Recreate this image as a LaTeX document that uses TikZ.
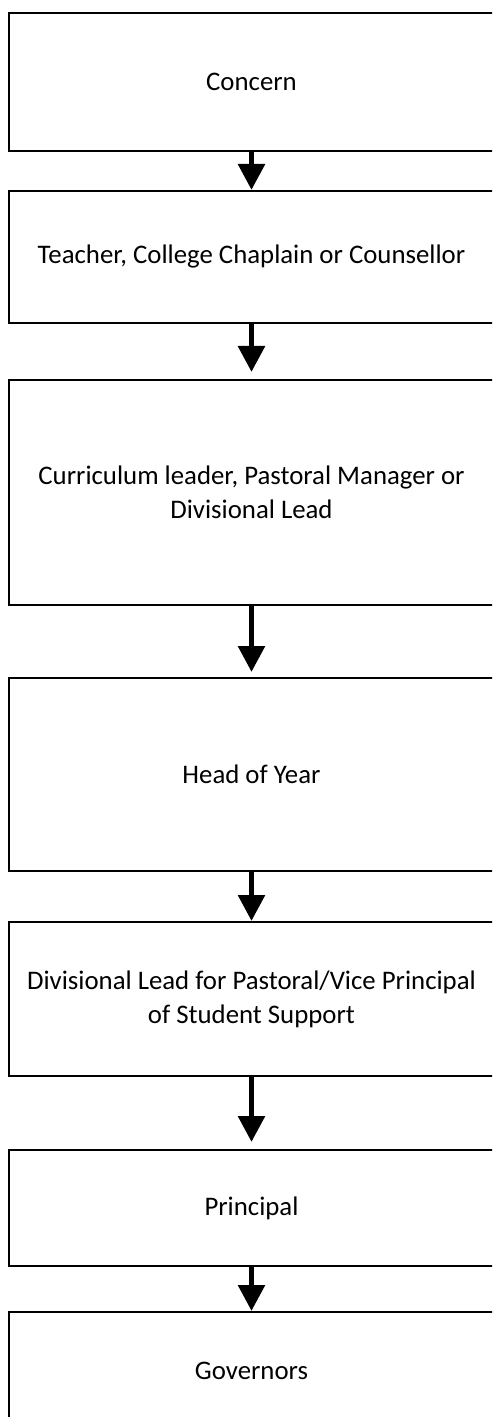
\documentclass[tikz,border=0pt]{standalone}
\usepackage{fontspec}
\setmainfont{Carlito}
\usetikzlibrary{arrows.meta}
\tikzset{
    stepbox/.style={draw,line width=1pt,minimum width=242.5pt,align=center,
        inner sep=0pt,font=\fontsize{13.4}{17}\selectfont},
    flowarrow/.style={line width=2.8pt,-{Triangle[width=13pt,length=13pt]}},
}
\begin{document}
\begin{tikzpicture}[x=0.5pt,y=-0.5pt]
    \useasboundingbox (0,0) rectangle (492,1417);
    \clip (0,0) rectangle (492,1417);
    % boxes, top to bottom
    \node[stepbox,minimum height=69pt] (concern) at (251.5,82) {Concern};
    \node[stepbox,minimum height=66pt] (teacher) at (251.5,257) {Teacher, College Chaplain or Counsellor};
    \node[stepbox,minimum height=112.5pt] (curric) at (251.5,492.5) {Curriculum leader, Pastoral Manager or\\Divisional Lead};
    \node[stepbox,minimum height=96.5pt] (hoy) at (251.5,774.5) {Head of Year};
    \node[stepbox,minimum height=77pt] (divlead) at (251.5,999) {Divisional Lead for Pastoral/Vice Principal\\of Student Support};
    \node[stepbox,minimum height=58pt] (principal) at (251.5,1208) {Principal};
    \node[stepbox,minimum height=59pt] (governors) at (251.5,1371) {Governors};
    % arrows
    \draw[flowarrow] (concern.south) -- (teacher.north);
    \draw[flowarrow,shorten >=3.5pt] (teacher.south) -- (curric.north);
    \draw[flowarrow,shorten >=2.5pt] (curric.south) -- (hoy.north);
    \draw[flowarrow] (hoy.south) -- (divlead.north);
    \draw[flowarrow,shorten >=3.5pt] (divlead.south) -- (principal.north);
    \draw[flowarrow] (principal.south) -- (governors.north);
\end{tikzpicture}
\end{document}
